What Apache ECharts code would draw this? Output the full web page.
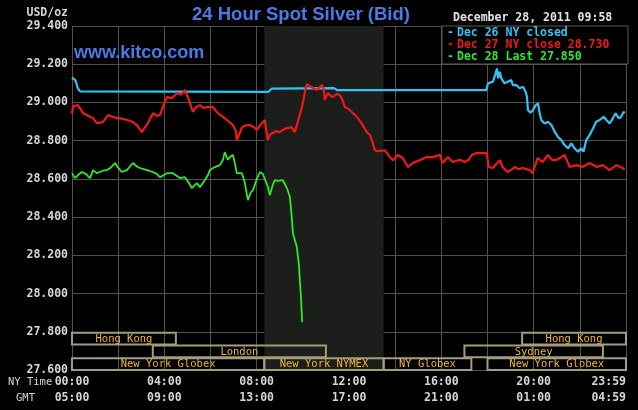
<!DOCTYPE html>
<html>
<head>
<meta charset="utf-8">
<script src="https://cdn.jsdelivr.net/npm/echarts@6/dist/echarts.min.js"></script>
<style>
html,body{margin:0;padding:0;background:#000;}
#chart{width:638px;height:410px;}
</style>
</head>
<body>
<div id="chart"></div>
<script>
// ---- Data (NY time in hours, price in USD/oz) ----
const nyTickLabels = ['00:00','04:00','08:00','12:00','16:00','20:00','23:59'];
const gmtTickLabels = ['05:00','09:00','13:00','17:00','21:00','01:00','04:59'];

const dec26Hours = [0,0.05,0.15,0.25,0.35,8.5,8.65,11.35,11.5,17.95,18.02,18.10,18.24,18.35,18.41,18.46,18.53,18.60,18.74,18.89,19.03,19.10,19.25,19.39,19.54,19.65,19.71,19.75,19.86,19.97,20.09,20.19,20.26,20.33,20.48,20.62,20.77,20.91,21.05,21.20,21.34,21.49,21.63,21.77,21.92,22.06,22.16,22.28,22.42,22.57,22.71,22.86,23.03,23.15,23.29,23.43,23.55,23.69,23.79,23.90,23.94];
const dec26Values = [29.130,29.135,29.115,29.075,29.058,29.055,29.072,29.075,29.064,29.064,29.100,29.091,29.109,29.152,29.178,29.126,29.161,29.126,29.100,29.109,29.117,29.091,29.091,29.074,29.082,29.056,29.030,28.960,28.946,28.960,28.986,28.995,28.943,28.908,28.890,28.899,28.882,28.847,28.820,28.803,28.777,28.760,28.786,28.760,28.742,28.760,28.742,28.803,28.829,28.864,28.899,28.908,28.925,28.908,28.890,28.917,28.943,28.917,28.925,28.951,28.943];

const dec27Hours = [0,0.05,0.12,0.26,0.48,0.69,0.91,1.08,1.34,1.56,1.73,1.95,2.16,2.38,2.60,2.81,3.03,3.16,3.29,3.51,3.68,3.81,3.98,4.11,4.33,4.55,4.72,4.81,4.89,5.02,5.24,5.37,5.54,5.71,5.84,6.10,6.32,6.49,6.71,6.97,7.10,7.14,7.27,7.36,7.53,7.71,7.88,8.01,8.14,8.27,8.35,8.48,8.57,8.70,8.83,9.00,9.18,9.31,9.52,9.65,9.78,9.96,10.09,10.17,10.30,10.39,10.52,10.61,10.74,10.82,10.91,10.95,11.08,11.21,11.30,11.47,11.60,11.73,11.82,11.99,12.12,12.25,12.38,12.55,12.77,12.90,12.99,13.12,13.25,13.33,13.46,13.55,13.68,13.77,13.90,14.11,14.33,14.55,14.76,15.06,15.37,15.63,15.93,16.06,16.28,16.49,16.80,17.01,17.19,17.32,17.53,17.97,18.05,18.23,18.40,18.53,18.66,18.87,19.05,19.18,19.35,19.52,19.83,19.96,20.04,20.17,20.39,20.61,20.82,21.00,21.13,21.34,21.43,21.56,21.86,22.12,22.42,22.73,22.99,23.29,23.59,23.85,23.94];
const dec27Values = [28.940,28.980,28.990,28.986,28.944,28.930,28.918,28.892,28.897,28.934,28.925,28.918,28.915,28.908,28.900,28.882,28.845,28.870,28.892,28.944,28.930,28.934,28.990,29.028,29.023,29.049,29.040,29.054,29.065,29.028,28.950,28.975,28.986,28.970,28.976,28.976,28.944,28.930,28.908,28.882,28.850,28.803,28.840,28.870,28.880,28.882,28.870,28.856,28.880,28.897,28.908,28.803,28.830,28.840,28.850,28.845,28.860,28.866,28.870,28.845,28.897,28.976,29.054,29.096,29.085,29.080,29.070,29.065,29.080,29.091,29.070,29.013,29.049,29.035,29.028,29.045,29.039,29.010,28.976,28.965,28.950,28.935,28.918,28.890,28.845,28.830,28.803,28.750,28.745,28.735,28.748,28.750,28.730,28.714,28.698,28.725,28.709,28.662,28.683,28.698,28.714,28.714,28.725,28.683,28.714,28.688,28.700,28.688,28.700,28.725,28.735,28.735,28.662,28.657,28.680,28.698,28.662,28.636,28.650,28.662,28.650,28.657,28.646,28.630,28.620,28.709,28.688,28.725,28.698,28.700,28.709,28.725,28.700,28.662,28.672,28.662,28.683,28.662,28.672,28.646,28.672,28.657,28.650];

const dec28Hours = [0,0.13,0.26,0.43,0.61,0.78,0.91,1.08,1.21,1.39,1.52,1.69,1.86,1.99,2.16,2.38,2.64,2.81,2.94,3.25,3.51,3.68,3.81,3.98,4.11,4.37,4.55,4.68,4.89,5.06,5.19,5.41,5.54,5.76,5.89,5.97,6.19,6.41,6.54,6.62,6.75,6.84,6.97,7.06,7.14,7.36,7.49,7.62,7.75,7.84,8.01,8.14,8.27,8.35,8.48,8.57,8.70,8.79,8.92,9.00,9.13,9.31,9.44,9.52,9.57,9.74,9.83,9.87,9.91,9.94,9.97];
const dec28Values = [28.630,28.604,28.620,28.636,28.625,28.604,28.646,28.630,28.636,28.645,28.646,28.660,28.683,28.660,28.636,28.646,28.683,28.665,28.657,28.646,28.636,28.625,28.609,28.620,28.630,28.630,28.615,28.604,28.609,28.580,28.552,28.578,28.557,28.594,28.620,28.646,28.662,28.672,28.700,28.740,28.700,28.714,28.725,28.680,28.630,28.630,28.578,28.489,28.530,28.541,28.600,28.636,28.625,28.620,28.560,28.515,28.570,28.594,28.590,28.583,28.594,28.552,28.505,28.400,28.316,28.243,28.150,28.070,28.000,27.929,27.850];

// Trading sessions: start hour, end hour, row, name
const sessionStart = [0, 19.5, 3.5, 17.0, 0, 8.33, 13.5, 18.0];
const sessionEnd   = [4.5, 24, 11.0, 23.0, 8.33, 13.5, 17.3, 24];
const sessionRow   = [0, 0, 1, 1, 2, 2, 2, 2];
const sessionName  = ['Hong Kong','Hong Kong','London','Sydney','New York Globex','New York NYMEX','NY Globex','New York Globex'];
const nymexShade = [8.33, 13.5];

const legendNames = ['Dec 26 NY closed','Dec 27 NY close 28.730','Dec 28 Last 27.850'];
const seriesColors = ['#33c3f2','#f01818','#2ee82e'];

// ---- Build ----
const zip = (h, v) => h.map((x, i) => [x, v[i]]);
const rowH = 0.2 / 3;
const sessionData = sessionStart.map((s, i) => [s, sessionEnd[i], 27.8 - sessionRow[i]*rowH, 27.8 - (sessionRow[i]+1)*rowH]);

const mono = '"DejaVu Sans Mono", monospace';
const chart = echarts.init(document.getElementById('chart'), null, {renderer:'canvas'});

const option = {
  backgroundColor: '#000',
  animation: false,
  grid: {left: 72, right: 12, top: 26, bottom: 40, containLabel: false},
  xAxis: {
    type: 'value', min: 0, max: 24, interval: 2,
    axisLine: {show: false}, axisTick: {show: false},
    splitLine: {show: true, lineStyle: {color: '#525252', width: 1}},
    axisLabel: {
      margin: 4, color: '#d6d6d6', fontFamily: mono, fontWeight: 'bold', fontSize: 11.5,
      lineHeight: 16, alignMaxLabel: 'right',
      formatter: v => (v % 4 === 0) ? nyTickLabels[v/4] + '\n' + gmtTickLabels[v/4] : ''
    }
  },
  yAxis: {
    type: 'value', min: 27.6, max: 29.4, interval: 0.2,
    axisLine: {show: false}, axisTick: {show: false},
    splitLine: {show: true, lineStyle: {color: '#525252', width: 1}},
    axisLabel: {margin: 4, color: '#d6d6d6', fontFamily: mono, fontWeight: 'bold', fontSize: 11.5,
      formatter: v => v.toFixed(3)}
  },
  series: [
    {
      type: 'line', data: [], z: -1, silent: true,
      markArea: {silent: true, itemStyle: {color: '#1b1e1b'},
        data: [[{xAxis: nymexShade[0]}, {xAxis: nymexShade[1]}]]}
    },
    {type: 'line', name: legendNames[0], data: zip(dec26Hours, dec26Values), showSymbol: false, lineStyle: {color: seriesColors[0], width: 2.2}, itemStyle:{color: seriesColors[0]}, z: 3},
    {type: 'line', name: legendNames[1], data: zip(dec27Hours, dec27Values), showSymbol: false, lineStyle: {color: seriesColors[1], width: 2.2}, itemStyle:{color: seriesColors[1]}, z: 3},
    {type: 'line', name: legendNames[2], data: zip(dec28Hours, dec28Values), showSymbol: false, lineStyle: {color: seriesColors[2], width: 1.8}, itemStyle:{color: seriesColors[2]}, z: 3},
    {
      type: 'custom', data: sessionData, z: 4, silent: true, clip: false,
      encode: {x: [0,1], y: [2,3]},
      renderItem: function(params, api) {
        const p0 = api.coord([api.value(0), api.value(2)]);
        const p1 = api.coord([api.value(1), api.value(3)]);
        return {type: 'group', children: [
          {type: 'rect', shape: {x: p0[0], y: p0[1]+1, width: p1[0]-p0[0], height: p1[1]-p0[1]-1},
           style: {fill: 'none', stroke: '#a39d7b', lineWidth: 2}},
          {type: 'text', style: {text: sessionName[params.dataIndex], x: (p0[0]+p1[0])/2, y: (p0[1]+p1[1])/2 + 1,
           align: 'center', verticalAlign: 'middle', fill: '#f0b636', font: '10.5px ' + mono}}
        ]};
      }
    }
  ],
  graphic: [
    {type: 'text', z: 100, x: 192, y: 15, style: {text: '24 Hour Spot Silver (Bid)', fill: '#4a7ae8', font: 'bold 18.5px "Liberation Sans", Arial, sans-serif', verticalAlign: 'middle'}},
    {type: 'text', z: 100, x: 74, y: 53, style: {text: 'www.kitco.com', fill: '#4a7ae8', font: 'bold 18px "Liberation Sans", Arial, sans-serif', verticalAlign: 'middle'}},
    {type: 'text', z: 100, x: 68, y: 13, style: {text: 'USD/oz', fill: '#d6d6d6', font: 'bold 11.5px ' + mono, align: 'right', verticalAlign: 'middle'}},
    {type: 'text', z: 100, x: 453, y: 18, style: {text: 'December 28, 2011 09:58', fill: '#e4e4e4', font: 'bold 11.5px ' + mono, verticalAlign: 'middle'}},
    {type: 'rect', z: 100, shape: {x: 442, y: 26, width: 186, height: 38}, style: {fill: '#000', stroke: '#5a5a5a', lineWidth: 1}},
    {type: 'text', z: 101, x: 447, y: 33, style: {text: '-', fill: seriesColors[0], font: 'bold 11.5px ' + mono, verticalAlign: 'middle'}},
    {type: 'text', z: 101, x: 457, y: 33, style: {text: legendNames[0], fill: seriesColors[0], font: 'bold 11.5px ' + mono, verticalAlign: 'middle'}},
    {type: 'text', z: 101, x: 447, y: 45, style: {text: '-', fill: seriesColors[1], font: 'bold 11.5px ' + mono, verticalAlign: 'middle'}},
    {type: 'text', z: 101, x: 457, y: 45, style: {text: legendNames[1], fill: seriesColors[1], font: 'bold 11.5px ' + mono, verticalAlign: 'middle'}},
    {type: 'text', z: 101, x: 447, y: 57, style: {text: '-', fill: seriesColors[2], font: 'bold 11.5px ' + mono, verticalAlign: 'middle'}},
    {type: 'text', z: 101, x: 457, y: 57, style: {text: legendNames[2], fill: seriesColors[2], font: 'bold 11.5px ' + mono, verticalAlign: 'middle'}},
    {type: 'text', z: 100, x: 8, y: 382, style: {text: 'NY Time', fill: '#d6d6d6', font: '10.5px ' + mono, verticalAlign: 'middle'}},
    {type: 'text', z: 100, x: 16, y: 398, style: {text: 'GMT', fill: '#d6d6d6', font: '10.5px ' + mono, verticalAlign: 'middle'}}
  ]
};
chart.setOption(option);
</script>
</body>
</html>
